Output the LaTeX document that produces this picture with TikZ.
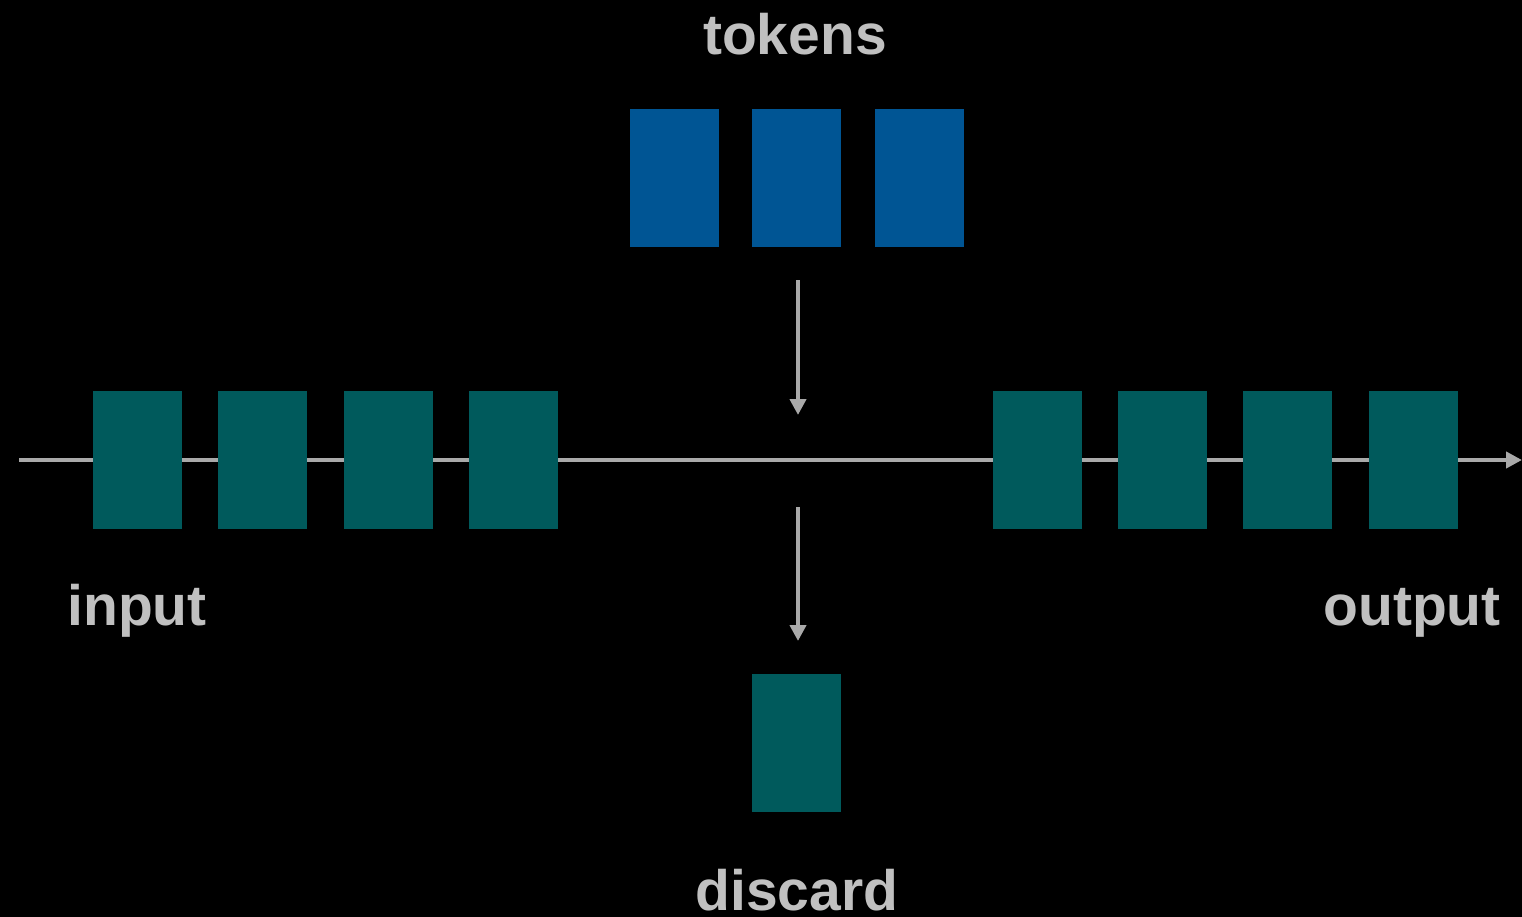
\documentclass[tikz,border=0pt]{standalone}
\usepackage{fontspec}
\setmainfont{Liberation Sans}
\usetikzlibrary{arrows.meta}
\definecolor{teal1}{HTML}{005A5C}
\definecolor{blue1}{HTML}{005594}
\definecolor{linegray}{HTML}{A9A9A9}
\definecolor{textgray}{HTML}{C0C0C0}
\begin{document}
\begin{tikzpicture}[x=1pt,y=-1pt,
  box/.style={rectangle,inner sep=0pt,minimum width=89pt,minimum height=138pt,draw=none},
  tealbox/.style={box,fill=teal1},
  bluebox/.style={box,fill=blue1},
  lbl/.style={anchor=base,inner sep=0pt,text=textgray,font=\fontsize{57}{60}\selectfont\bfseries},
  conn/.style={draw=linegray,line width=4pt,-{Triangle[width=16pt,length=16pt]}}
]
\fill[black] (0,0) rectangle (1522,917);
\useasboundingbox (0,0) rectangle (1522,917);
% main line
\coordinate (lstart) at (19,460);
\coordinate (lend) at (1522,460);
\draw[conn] (lstart) -- (lend);
% tokens
\node[bluebox] (t1) at (674,178) {};
\node[bluebox] (t2) at (796.5,178) {};
\node[bluebox] (t3) at (919,178) {};
% input
\node[tealbox] (i1) at (137.5,460) {};
\node[tealbox] (i2) at (262.5,460) {};
\node[tealbox] (i3) at (388.5,460) {};
\node[tealbox] (i4) at (513.5,460) {};
% output
\node[tealbox] (o1) at (1037.5,460) {};
\node[tealbox] (o2) at (1162.5,460) {};
\node[tealbox] (o3) at (1287.5,460) {};
\node[tealbox] (o4) at (1413.5,460) {};
% discard
\node[tealbox] (d) at (796.5,743) {};
% arrows
\coordinate (a1s) at (798,280);
\coordinate (a1e) at (798,415);
\coordinate (a2s) at (798,507);
\coordinate (a2e) at (798,641);
\draw[conn] (a1s) -- (a1e);
\draw[conn] (a2s) -- (a2e);
% labels
\node[lbl] (ltok) at (795,55) {tokens};
\node[lbl] (lin) at (137,625) {input};
\node[lbl] (lout) at (1412,625) {output};
\node[lbl] (ldis) at (797,910) {discard};
\end{tikzpicture}
\end{document}
